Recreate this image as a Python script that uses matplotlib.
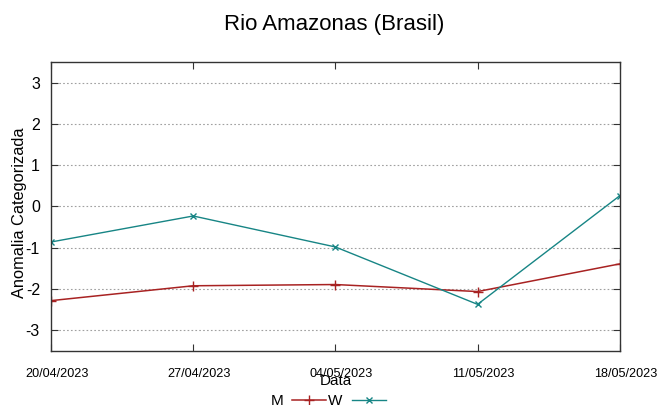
import numpy as np
import matplotlib
matplotlib.use('Agg')
import matplotlib.pyplot as plt
import matplotlib.transforms as mtransforms
from matplotlib import font_manager

plt.rcParams['font.family'] = ['Liberation Sans', 'DejaVu Sans']

datas = ['20/04/2023', '27/04/2023', '04/05/2023', '11/05/2023', '18/05/2023']
m_vals = [-2.28, -1.92, -1.89, -2.06, -1.39]
w_vals = [-0.86, -0.23, -0.98, -2.37, 0.26]
yticks = [-3, -2, -1, 0, 1, 2, 3]

names = {f.name for f in font_manager.fontManager.ttflist}
narrow = 'Liberation Sans Narrow' if 'Liberation Sans Narrow' in names else 'Liberation Sans'

fig = plt.figure(figsize=(6.6, 4.05), dpi=100)
ax = fig.add_axes([0.0773, 0.1333, 0.8617, 0.7137])

x = np.arange(len(datas))
ax.plot(x, m_vals, color='#a82222', lw=1.1, marker='+', ms=7, mew=1.0, label='M')
ax.plot(x, w_vals, color='#178585', lw=1.0, marker='x', ms=5, mew=1.0, label='W')

ax.set_xlim(0, len(datas) - 1)
ax.set_ylim(-3.5, 3.5)
ax.set_xticks(x)
ax.set_xticklabels(datas, fontsize=10.3 if narrow != 'Liberation Sans' else 9.1, family=narrow)
ax.set_yticks(yticks)
ax.set_yticklabels([str(v) for v in yticks], fontsize=11.5)
ax.tick_params(axis='both', direction='in', top=True, right=True, length=5, width=0.8, color='#333333')
ax.tick_params(axis='x', pad=12)
ax.tick_params(axis='y', pad=8)
# gnuplot puts the date labels a little right of the tick
shift = mtransforms.ScaledTranslation(6 / 100, 0, fig.dpi_scale_trans)
for lbl in ax.get_xticklabels():
    lbl.set_transform(lbl.get_transform() + shift)
ax.grid(axis='y', color='#a0a0a0', linestyle=(0, (1.5, 2)), lw=0.8)
for s in ax.spines.values():
    s.set_color('#333333')
    s.set_linewidth(1.0)

ax.set_ylabel('Anomalia Categorizada', fontsize=11.8)
ax.yaxis.set_label_coords(-0.043, 0.478)
ax.set_xlabel('Data', fontsize=11, labelpad=-4)
fig.suptitle('Rio Amazonas (Brasil)', fontsize=16, x=0.507, y=0.965)

fig.legend(loc='center', bbox_to_anchor=(0.497, 0.01), ncol=2, frameon=False,
           markerfirst=False, fontsize=11, handlelength=2.2, columnspacing=0.15,
           handletextpad=0.6, borderpad=0)

fig.savefig('out.png', dpi=100)
